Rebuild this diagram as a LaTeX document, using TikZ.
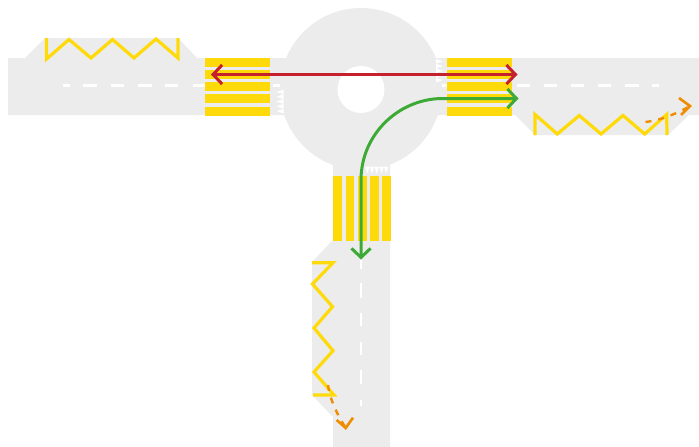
\documentclass[tikz,border=0pt]{standalone}
\usetikzlibrary{arrows.meta}
\definecolor{road}{HTML}{ECECEC}
\definecolor{zebra}{HTML}{FFDA0A}
\definecolor{redline}{HTML}{C4202E}
\definecolor{greenline}{HTML}{3DAA35}
\definecolor{orangeline}{HTML}{F08C00}
\tikzset{
  roadarea/.style={fill=road,draw=none},
  zebrabar/.style={fill=zebra,draw=zebra,line width=0.4pt},
  zigzag/.style={draw=zebra,line width=3.2pt,line join=miter},
  centerdash/.style={draw=white,line width=2.4pt},
  tooth/.style={fill=white,draw=none},
  redarrow/.style={draw=redline,line width=3pt,{Straight Barb[length=9pt,width=19pt,line width=3pt]}-{Straight Barb[length=9pt,width=19pt,line width=3pt]}},
  greenarrow/.style={draw=greenline,line width=3pt,{Straight Barb[length=9pt,width=19pt,line width=3pt]}-{Straight Barb[length=9pt,width=19pt,line width=3pt]}},
  orangepath/.style={draw=orangeline,line width=2.4pt,dash pattern=on 6pt off 7pt},
  orangehead/.style={draw=orangeline,line width=2.6pt,line join=miter}
}
\begin{document}
\begin{tikzpicture}[x=1pt,y=-1pt]
\useasboundingbox (0,0) rectangle (699,447);
\fill[white] (0,0) rectangle (699,447);
% road surface
\fill[roadarea] (361,89) circle[radius=81];
\fill[roadarea] (8,58) -- (25,58) -- (45,38) -- (178,38) -- (197,58) -- (290,58) -- (290,115) -- (8,115) -- cycle;
\fill[roadarea] (430,58) -- (699,58) -- (699,115) -- (689,115) -- (668,135) -- (535,135) -- (515,115) -- (430,115) -- cycle;
\fill[roadarea] (333,150) -- (390,150) -- (390,447) -- (333,447) -- (333,417) -- (312,395) -- (312,262) -- (333,240) -- cycle;
\fill[white] (361,89.5) circle[radius=23.5];
% centre lines
\foreach \a/\b in {63/70,83/97,111/124,138/152,165/178,193/205,273/280}
  \draw[centerdash] (\a,85.5) -- (\b,85.5);
\foreach \a/\b in {442/447,517/530,544/557,571/584,598/611,625/639,652/659}
  \draw[centerdash] (\a,85.5) -- (\b,85.5);
\foreach \a/\b in {260/269,283/298,313/326,342/355,370/384,400/406}
  \draw[centerdash] (361,\a) -- (361,\b);
% give-way teeth
\foreach \y in {89.5,94.3,99.1,103.9,108.7}
  \fill[tooth] (283.5,\y) -- (283.5,\y+4.8) -- (276.5,\y+2.4) -- cycle;
\foreach \y in {59,63.7,68.4,73.1,77.8}
  \fill[tooth] (436,\y) -- (436,\y+4.7) -- (442.5,\y+2.35) -- cycle;
\foreach \x in {365,369.7,374.4,379.1,383.8}
  \fill[tooth] (\x,166.5) -- (\x+4.7,166.5) -- (\x+2.35,173.5) -- cycle;
% crossings
\foreach \a/\b in {58/65.7,70/78,82/90,94.5/102.5,107/115}{
  \filldraw[zebrabar] (205,\a) rectangle (269.5,\b);
  \filldraw[zebrabar] (447,\a) rectangle (511,\b);
}
\foreach \a/\b in {333.3/341.3,345.7/353.3,358/366,370/378.3,382.3/390.3}
  \filldraw[zebrabar] (\a,176) rectangle (\b,240);
% zigzags
\draw[zigzag] (46.5,38) -- (46.5,59) -- (69,39.5) -- (91,58) -- (112.5,39.5) -- (134,58) -- (156,39) -- (178,58) -- (178,38);
\draw[zigzag] (535,135) -- (535,114.5) -- (557.3,134) -- (579.3,115.5) -- (601,134) -- (623,115.5) -- (644.7,134) -- (666.7,114.5) -- (667,135);
\draw[zigzag] (312,262.7) -- (333,262.7) -- (312.5,284) -- (332.5,306.7) -- (314,328) -- (333,350.7) -- (314,372) -- (334,395) -- (313,395);
% movements
\draw[redarrow] (211,74.5) -- (517.5,74.5);
\draw[greenarrow] (361,259.5) -- (361,180) .. controls (361,135) and (398,98.5) .. (443,98.5) -- (518.5,98.5);
\coordinate (rs) at (645.5,122);
\coordinate (rt) at (690,106);
\coordinate (bs) at (328,385);
\coordinate (bt) at (345.7,428);
\draw[orangepath] (rs) .. controls (660,120.5) and (676,114) .. (rt);
\draw[orangepath] (bs) .. controls (330,400) and (337,414) .. (bt);
\draw[orangehead] (679,98) -- (rt) -- (681,115);
\draw[orangehead] (336.7,420) -- (bt) -- (353,417.7);
\end{tikzpicture}
\end{document}
